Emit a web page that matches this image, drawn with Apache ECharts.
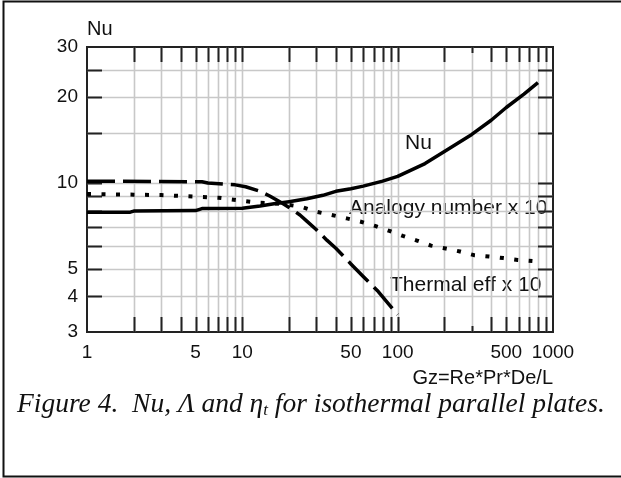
<!DOCTYPE html>
<html><head><meta charset="utf-8">
<script src="https://cdn.jsdelivr.net/npm/echarts@6/dist/echarts.min.js"></script>
<style>html,body{margin:0;padding:0;background:#fff}#c{width:621px;height:478px}</style>
</head><body><div id="c"></div>
<script>
// ---- data ----
const nuX = [1, 1.9, 2, 5, 5.5, 10, 13, 16, 20, 26, 33, 40, 50, 60, 80, 100, 150, 200, 300, 400, 500, 650, 800];
const nuY = [7.9, 7.9, 7.97, 8.0, 8.13, 8.15, 8.3, 8.45, 8.6, 8.8, 9.05, 9.35, 9.55, 9.75, 10.15, 10.55, 11.7, 12.9, 14.8, 16.6, 18.4, 20.5, 22.5];

const anaX = [1, 2, 3, 5, 7, 8.5, 10.4, 13, 16, 20, 24.5, 30.5, 37.6, 47, 58, 71.5, 88.5, 108, 133, 164, 204, 252, 310, 388, 480, 593, 737];
const anaY = [9.15, 9.1, 9.07, 8.95, 8.88, 8.76, 8.64, 8.52, 8.48, 8.38, 8.22, 7.91, 7.72, 7.51, 7.31, 7.07, 6.79, 6.52, 6.28, 6.03, 5.89, 5.75, 5.58, 5.52, 5.45, 5.37, 5.32];

const thX = [1, 5.5, 6, 9, 10.5, 13, 15, 18, 20, 23.5, 26, 30, 35, 40, 50, 60, 75, 100];
const thY = [10.15, 10.1, 10.0, 9.85, 9.7, 9.35, 9.0, 8.5, 8.2, 7.72, 7.35, 6.85, 6.3, 5.9, 5.2, 4.7, 4.16, 3.45];

const xGridValues = [2,3,4,5,6,7,8,9,10,20,30,40,50,60,70,80,90,100,200,300,400,500,600,700,800,900];
const yGridValues = [4,5,6,7,8,9,10,15,20,25];
const xTickLabels = [1,5,10,50,100,500,1000];
const yTickLabels = [3,4,5,10,20,30];

const xMin = 1, xMax = 1000, yMin = 3, yMax = 30;

const zip = (a, b) => a.map((v, i) => [v, b[i]]);

const chart = echarts.init(document.getElementById('c'), null, {renderer: 'canvas'});
const sans = 'Liberation Sans, Arial, sans-serif';
const ink = '#111';

const option = {
  animation: false,
  backgroundColor: '#fff',
  grid: {left: 87, top: 47, width: 466, height: 285, show: true, borderColor: '#222', borderWidth: 2, backgroundColor: 'transparent'},
  xAxis: {type: 'log', logBase: 10, min: xMin, max: xMax, axisLine: {show: false}, axisTick: {show: false}, axisLabel: {show: false}, splitLine: {show: false}},
  yAxis: {type: 'log', logBase: 10, min: yMin, max: yMax, axisLine: {show: false}, axisTick: {show: false}, axisLabel: {show: false}, splitLine: {show: false}},
  graphic: [
    {type: 'polyline', shape: {points: [[640, 1.5], [3.5, 1.5], [3.5, 476.5], [640, 476.5]]}, style: {stroke: '#111', lineWidth: 2, fill: null}},
    {type: 'text', left: 87, top: 19, style: {text: 'Nu', font: '20px ' + sans, fill: ink}},
    {type: 'text', right: 68, top: 368, style: {text: 'Gz=Re*Pr*De/L', font: '20px ' + sans, fill: ink}},
    {type: 'text', left: 405, top: 133, style: {text: 'Nu', font: '21px ' + sans, fill: ink}},
    {type: 'text', left: 349, top: 198, style: {text: 'Analogy number x 10', font: '21px ' + sans, fill: ink}},
    {type: 'text', left: 390, top: 275, style: {text: 'Thermal eff x 10', font: '21px ' + sans, fill: ink}},
    {type: 'text', left: 17, top: 391, style: {
      text: 'Figure 4.  Nu, \u039B and \u03B7{sub|t} for isothermal parallel plates.',
      font: 'italic 27.5px "Liberation Serif", "Times New Roman", serif', fill: ink,
      rich: {sub: {font: 'italic 17px "Liberation Serif", serif', fill: ink, verticalAlign: 'bottom', padding: [12, 0, 0, 0]}}
    }}
  ],
  series: [
    {
      type: 'custom', name: 'xgrid', silent: true, z: 1,
      data: xGridValues.map(v => [v, yMin]),
      renderItem: (params, api) => {
        const cs = params.coordSys;
        const v = api.value(0);
        const px = Math.round(api.coord([v, yMin])[0]) + 0.5;
        const len = v === 300 ? 6 : 15;
        return {type: 'group', children: [
          {type: 'line', shape: {x1: px, y1: cs.y, x2: px, y2: cs.y + cs.height}, style: {stroke: '#c8c8c8', lineWidth: 1.6}},
          {type: 'line', z2: 50, shape: {x1: px, y1: cs.y, x2: px, y2: cs.y + len}, style: {stroke: '#222', lineWidth: 2}},
          {type: 'line', z2: 50, shape: {x1: px, y1: cs.y + cs.height - len, x2: px, y2: cs.y + cs.height}, style: {stroke: '#222', lineWidth: 2}}
        ]};
      }
    },
    {
      type: 'custom', name: 'ygrid', silent: true, z: 1,
      data: yGridValues.map(v => [xMin, v]),
      renderItem: (params, api) => {
        const cs = params.coordSys;
        const v = api.value(1);
        const py = Math.round(api.coord([xMin, v])[1]) + 0.5;
        const len = 15;
        return {type: 'group', children: [
          {type: 'line', shape: {x1: cs.x, y1: py, x2: cs.x + cs.width, y2: py}, style: {stroke: '#c8c8c8', lineWidth: 1.6}},
          {type: 'line', z2: 50, shape: {x1: cs.x, y1: py, x2: cs.x + len, y2: py}, style: {stroke: '#222', lineWidth: 2}},
          {type: 'line', z2: 50, shape: {x1: cs.x + cs.width - len, y1: py, x2: cs.x + cs.width, y2: py}, style: {stroke: '#222', lineWidth: 2}}
        ]};
      }
    },
    {
      type: 'custom', name: 'xlabels', silent: true, z: 5,
      data: xTickLabels.map(v => [v, yMin]),
      renderItem: (params, api) => {
        const cs = params.coordSys;
        const v = api.value(0);
        const px = api.coord([v, yMin])[0];
        return {type: 'text', x: px, y: cs.y + cs.height + 11, style: {text: String(v), font: '19px ' + sans, fill: ink, textAlign: 'center', textVerticalAlign: 'top'}};
      }
    },
    {
      type: 'custom', name: 'ylabels', silent: true, z: 5,
      data: yTickLabels.map(v => [xMin, v]),
      renderItem: (params, api) => {
        const cs = params.coordSys;
        const v = api.value(1);
        const py = api.coord([xMin, v])[1];
        return {type: 'text', x: cs.x - 9, y: py, style: {text: String(v), font: '19px ' + sans, fill: ink, textAlign: 'right', textVerticalAlign: 'middle'}};
      }
    },
    {
      type: 'line', name: 'Thermal eff x 10', data: zip(thX, thY), showSymbol: false, smooth: false, z: 10,
      lineStyle: {color: '#000', width: 3.5, type: [28, 8], cap: 'butt', join: 'round'}
    },
    {
      type: 'line', name: 'Analogy number x 10', data: zip(anaX, anaY), showSymbol: false, smooth: false, z: 10,
      lineStyle: {color: '#000', width: 4, type: [4, 10.5], cap: 'butt'}
    },
    {
      type: 'line', name: 'Nu', data: zip(nuX, nuY), showSymbol: false, smooth: false, z: 11,
      lineStyle: {color: '#000', width: 3.5, type: 'solid', join: 'round'}
    }
  ]
};
chart.setOption(option);
</script>
</body></html>
